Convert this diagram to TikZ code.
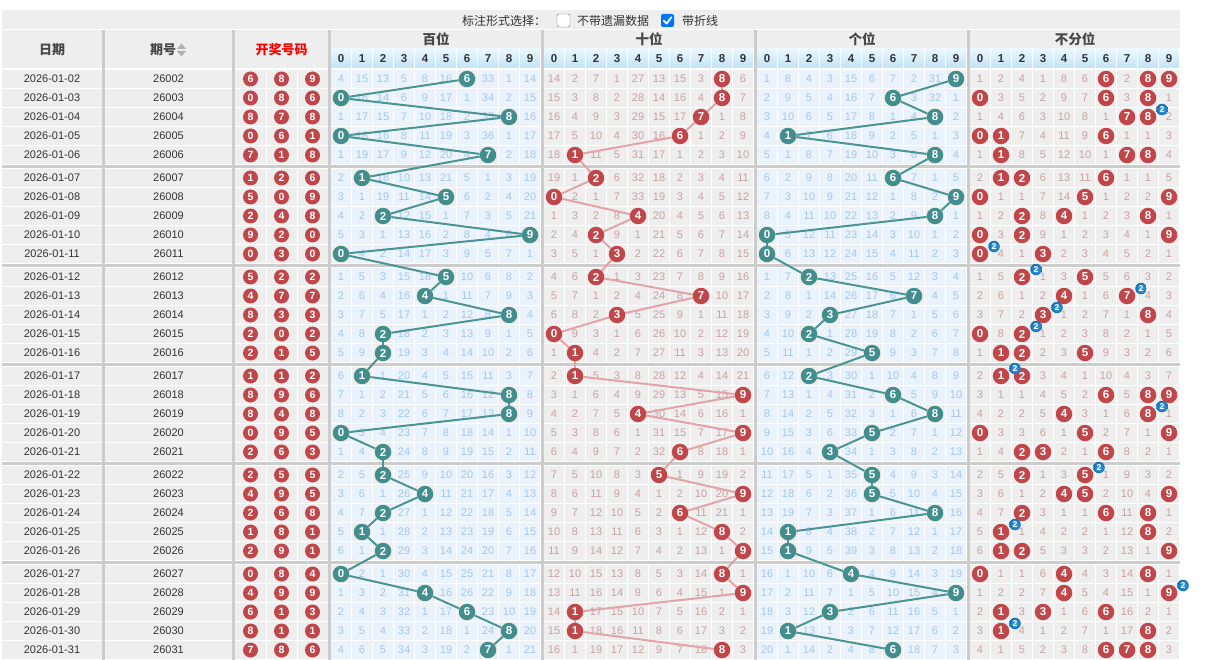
\documentclass[tikz,border=0pt]{standalone}
\usepackage{fontspec}
\setmainfont{Liberation Sans}
\newfontfamily\cjk{Noto Sans CJK SC}
\pgfdeclarelayer{fg}
\pgfdeclarelayer{top}
\pgfsetlayers{main,fg,top}
\definecolor{grayBg}{HTML}{EEEEEE}
\definecolor{blueBg}{HTML}{EAF3FB}
\definecolor{blueTxt}{HTML}{A4C6EC}
\definecolor{pinkTxt}{HTML}{C9A1A1}
\definecolor{tealBall}{HTML}{428E8E}
\definecolor{tealLine}{HTML}{4A9494}
\definecolor{redBall}{HTML}{C04649}
\definecolor{pinkLine}{HTML}{E3A3A7}
\definecolor{sepGray}{HTML}{CCCCCC}
\definecolor{hdTop}{HTML}{EAF7FD}
\definecolor{hdBot}{HTML}{C2E3F5}
\definecolor{txtDark}{HTML}{333333}
\definecolor{badgeIn}{HTML}{3FA6E6}
\definecolor{badgeOut}{HTML}{1470B4}
\definecolor{chkBlue}{HTML}{0075FF}
\tikzset{
  ballbase/.style={circle, inner sep=0pt, minimum size=16.5pt, text=white, font=\fontsize{11.5}{11.5}\selectfont\bfseries},
  ballH/.style={ballbase, fill=tealBall},
  ballT/.style={ballbase, fill=redBall},
  ballU/.style={ballbase, fill=tealBall},
  ballA/.style={ballbase, fill=redBall},
  winball/.style={circle, inner sep=0pt, minimum size=15pt, fill=redBall, text=white, font=\fontsize{10.5}{10.5}\selectfont\bfseries},
  badge/.style={circle, inner sep=0pt, minimum size=11.5pt, inner color=badgeIn, outer color=badgeOut, text=white, font=\fontsize{8.5}{8.5}\selectfont\bfseries},
  bgH/.style={fill=blueBg}, bgT/.style={fill=grayBg}, bgU/.style={fill=blueBg}, bgA/.style={fill=grayBg},
  hitbg/.style={fill=grayBg},
  numH/.style={text=blueTxt, inner sep=0pt, font=\fontsize{11}{11}\selectfont},
  numU/.style={numH},
  numT/.style={text=pinkTxt, inner sep=0pt, font=\fontsize{11}{11}\selectfont},
  numA/.style={numT},
  rowtxt/.style={text=txtDark, inner sep=0pt, font=\fontsize{11}{11}\selectfont},
  hdtxt/.style={text=txtDark!90, inner sep=0pt, font=\cjk\fontsize{13}{13}\selectfont\bfseries},
  digtxt/.style={text=txtDark, inner sep=0pt, font=\fontsize{11.5}{11.5}\selectfont\bfseries},
  bartxt/.style={text=txtDark, inner sep=0pt, anchor=west, font=\cjk\fontsize{12}{12}\selectfont},
  lineH/.style={draw=tealLine, line width=2pt},
  lineU/.style={draw=tealLine, line width=2pt},
  lineT/.style={draw=pinkLine, line width=2pt},
}
\def\drawlist{6/8/9,0/8/6,8/7/8,0/6/1,7/1/8,1/2/6,5/0/9,2/4/8,9/2/0,0/3/0,5/2/2,4/7/7,8/3/3,2/0/2,2/1/5,1/1/2,8/9/6,8/4/8,0/9/5,2/6/3,2/5/5,4/9/5,2/6/8,1/8/1,2/9/1,0/8/4,4/9/9,6/1/3,8/1/1,7/8/6}
\newcommand\initmiss[2]{\foreach \v [count=\i from 0] in {#2}{\expandafter\xdef\csname m#1\i\endcsname{\v}}}
\newcommand\posgroup[3]{%
  \foreach \dg in {0,...,9}{%
    \pgfmathtruncatemacro\cxl{#2+21*\dg}%
    \ifnum\dg=#3\relax
      \expandafter\xdef\csname m#1\dg\endcsname{0}%
      \fill[hitbg] (\cxl,\ty) rectangle ++(20,18);
      \begin{pgfonlayer}{fg}
        \node[ball#1] (#1\r) at (\cxl+10,\cy) {\dg};
      \end{pgfonlayer}
    \else
      \expandafter\xdef\csname m#1\dg\endcsname{\the\numexpr\csname m#1\dg\endcsname+1\relax}%
      \fill[bg#1] (\cxl,\ty) rectangle ++(20,18);
      \node[num#1] at (\cxl+10,\cy) {\csname m#1\dg\endcsname};
    \fi
  }%
}
\begin{document}
\begin{tikzpicture}[x=1pt,y=-1pt]
\useasboundingbox (0,0) rectangle (1206,660);
\fill[white] (0,0) rectangle (1206,660);
% initial (previous) missing counts
\initmiss{H}{3,14,12,4,7,15,0,32,0,13}
\initmiss{T}{13,1,6,0,26,12,14,2,0,5}
\initmiss{U}{0,7,3,2,14,5,6,1,30,0}
\initmiss{A}{0,1,3,0,7,5,0,1,0,0}
% top bar
\fill[grayBg] (2,10) rectangle (1180,29);
\node[bartxt] (lbl) at (462,21) {标注形式选择：};
\draw[draw=black!55, fill=white, rounded corners=2pt] (557,14) rectangle (570,27);
\node[bartxt] (opt1) at (577,21) {不带遗漏数据};
\fill[chkBlue, rounded corners=2pt] (661,14) rectangle (674,27);
\draw[white, line width=1.8pt, line cap=round, line join=round] (663.8,20.6) -- (666.6,23.6) -- (671.4,17.2);
\node[bartxt] (opt2) at (682,21) {带折线};
% header cells
\fill[grayBg] (2,30) rectangle (102,68);
\node[hdtxt] (hdate) at (52,49.5) {日期};
\fill[grayBg] (105,30) rectangle (232,68);
\node[hdtxt] (hqh) at (163,49.5) {期号};
\fill[black!30] (177,49) -- (186,49) -- (181.5,43.5) -- cycle;
\fill[black!30] (177,51) -- (186,51) -- (181.5,56.5) -- cycle;
\fill[grayBg] (235,30) rectangle (328,68);
\node[hdtxt, text=red] (hwin) at (281.5,49.5) {开奖号码};
\foreach \gx/\gt in {331/百位,544/十位,757/个位,970/不分位}{
  \fill[grayBg] (\gx,30) rectangle ++(210,18);
  \node[hdtxt, font=\cjk\fontsize{13.5}{13.5}\selectfont\bfseries] at (\gx+105,39.5) {\gt};
  \foreach \dg in {0,...,9}{
    \shade[top color=hdTop, bottom color=hdBot] (\gx+21*\dg,49) rectangle ++(20,19);
    \node[digtxt] at (\gx+21*\dg+10,58.5) {\dg};
  }
}
% rows
\foreach \dh/\dt/\du [count=\r] in \drawlist {
  \pgfmathtruncatemacro\grp{int((\r-1)/5)}
  \pgfmathtruncatemacro\ty{70+(\r-1)*19+\grp*4}
  \pgfmathtruncatemacro\cy{\ty+9}
  \pgfmathtruncatemacro\day{\r+1}
  \fill[grayBg] (2,\ty) rectangle (102,\ty+18);
  \node[rowtxt] (date\r) at (52,\cy) {2026-01-\ifnum\day<10 0\fi\day};
  \fill[grayBg] (105,\ty) rectangle (232,\ty+18);
  \node[rowtxt] (qh\r) at (168.5,\cy) {260\ifnum\day<10 0\fi\day};
  \fill[grayBg] (235,\ty) rectangle (266,\ty+18);
  \fill[grayBg] (267,\ty) rectangle (297,\ty+18);
  \fill[grayBg] (298,\ty) rectangle (328,\ty+18);
  \node[winball] (w\r a) at (250.5,\cy) {\dh};
  \node[winball] (w\r b) at (281.5,\cy) {\dt};
  \node[winball] (w\r c) at (312.5,\cy) {\du};
  \posgroup{H}{331}{\dh}
  \posgroup{T}{544}{\dt}
  \posgroup{U}{757}{\du}
  \foreach \dg in {0,...,9}{%
    \pgfmathtruncatemacro\cxl{970+21*\dg}%
    \pgfmathtruncatemacro\nn{(\dh==\dg)+(\dt==\dg)+(\du==\dg)}%
    \ifnum\nn>0
      \expandafter\xdef\csname mA\dg\endcsname{0}%
      \fill[grayBg] (\cxl,\ty) rectangle ++(20,18);
      \begin{pgfonlayer}{fg}
        \node[ballA] (A\r-\dg) at (\cxl+10,\cy) {\dg};
      \end{pgfonlayer}
      \ifnum\nn>1
        \begin{pgfonlayer}{top}
          \node[badge] (B\r-\dg) at (\cxl+24,\cy-7.5) {\nn};
        \end{pgfonlayer}
      \fi
    \else
      \expandafter\xdef\csname mA\dg\endcsname{\the\numexpr\csname mA\dg\endcsname+1\relax}%
      \fill[bgA] (\cxl,\ty) rectangle ++(20,18);
      \node[numA] at (\cxl+10,\cy) {\csname mA\dg\endcsname};
    \fi
  }
}
% separators
\foreach \sx in {102,232,328,541,754,967}{
  \fill[sepGray] (\sx,30) rectangle ++(3,630);
}
\foreach \g in {1,...,5}{
  \fill[sepGray] (2,70+99*\g-4) rectangle (1180,70+99*\g-1);
}
% polylines
\foreach \r [evaluate=\r as \s using int(\r+1)] in {1,...,29}{
  \draw[lineH] (H\r) -- (H\s);
  \draw[lineT] (T\r) -- (T\s);
  \draw[lineU] (U\r) -- (U\s);
}
\end{tikzpicture}
\end{document}
